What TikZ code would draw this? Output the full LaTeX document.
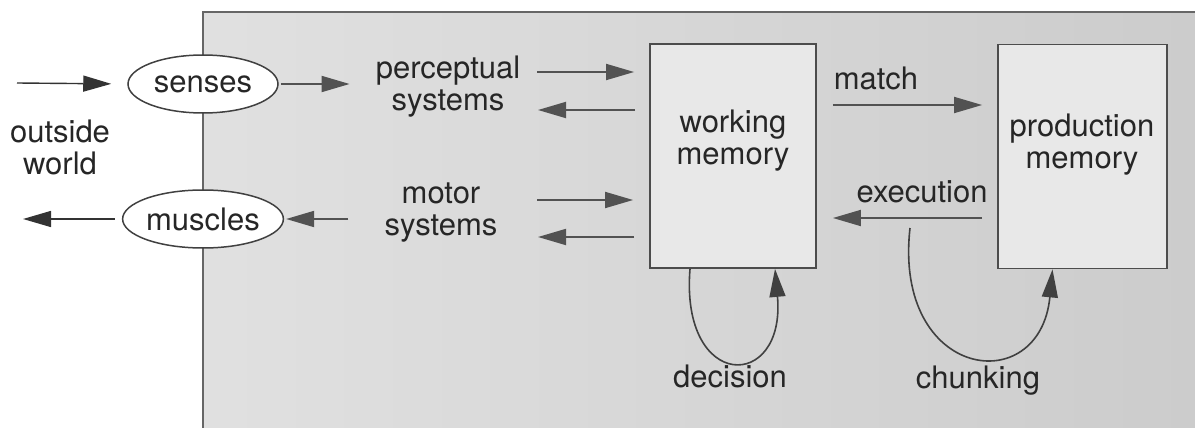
\documentclass[tikz,border=0pt]{standalone}
\usepackage{fontspec}
\setmainfont{TeX Gyre Heros}
\usetikzlibrary{arrows.meta,shapes.geometric,calc}

\begin{document}
\begin{tikzpicture}[x=1pt,y=-1pt,
  every node/.style={font=\fontsize{31}{32}\selectfont, inner sep=0pt, text=black!85},
  arr/.style={draw=black!68, line width=1.8pt, -{Triangle[length=28pt,width=16pt]}},
  loop/.style={draw=black!75, line width=1.6pt, -{Triangle[length=28pt,width=16pt]}},
  membox/.style={draw=black!70, line width=1.8pt, fill=gray!18, minimum height=224pt},
  oval/.style={ellipse, draw=black!75, line width=1.5pt, fill=white,
               minimum width=150pt, minimum height=58pt},
  lines/.style={align=center}]

  % page frame
  \useasboundingbox (0,0) rectangle (1195,428);

  % shaded body of the cognitive system
  \shade[left color=gray!24, right color=gray!40] (203,12) rectangle (1195,428);
  \draw[black!60, line width=1.6pt] (1195,12) -- (203,12) -- (203,428);

  % memories
  \node[membox, minimum width=166pt] (wm) at (733,156) {};
  \node[membox, minimum width=169pt] (pm) at (1082.5,156.5) {};
  \node[lines] (wmtext) at (733,141) {working\\memory};
  \node[lines] (pmtext) at (1082,145) {production\\memory};

  % peripheral systems
  \node[lines] (perc) at (448,87) {perceptual\\systems};
  \node[lines] (motor) at (441,213) {motor\\systems};

  % interface to the outside world
  \node[oval] (senses) at (203,84) {senses};
  \node[oval] (muscles) at (203,219) {muscles};
  \node[lines] (world) at (60,147) {outside\\world};

  % edge labels
  \node[anchor=base] (match) at (876,90) {match};
  \node[anchor=base] (exec) at (922,202) {execution};
  \node[anchor=base] (decision) at (730,387) {decision};
  \node[anchor=base] (chunk) at (978,388) {chunking};

  % free ends of connectors
  \coordinate (inpt) at (17,83);
  \coordinate (outpt) at (23,219);
  \coordinate (p1) at (537,72);
  \coordinate (p2) at (538,110);
  \coordinate (m1) at (537,200);
  \coordinate (m2) at (538,237);
  \coordinate (mt) at (0,105);
  \coordinate (ex) at (0,218);
  \coordinate (ck) at (910,228);

  % outside world <-> senses / muscles
  \draw[arr, draw=black!80, line width=1.4pt, shorten >=16pt] (inpt) -- (senses.west);
  \draw[arr, draw=black!80, line width=1.4pt, shorten <=7pt] (muscles.west) -- (outpt);
  \draw[arr, shorten <=2pt, shorten >=26pt] (senses.east) -- (perc.west |- senses.east);
  \draw[arr, shorten <=36pt, shorten >=2pt] (motor.west |- muscles.east) -- (muscles.east);

  % peripheral systems <-> working memory
  \draw[arr, shorten >=15pt] (p1) -- (p1 -| wm.west);
  \draw[arr, shorten <=14pt] (p2 -| wm.west) -- (p2);
  \draw[arr, shorten >=16pt] (m1) -- (m1 -| wm.west);
  \draw[arr, shorten <=15pt] (m2 -| wm.west) -- (m2);

  % match / execution cycle
  \draw[arr, shorten <=16pt, shorten >=15pt] (wm.east |- mt) -- (pm.west |- mt);
  \draw[arr, shorten <=15pt, shorten >=16pt] (pm.west |- ex) -- (wm.east |- ex);

  % decision loop and chunking
  \draw[loop] ([xshift=-43pt]wm.south) .. controls +(-10,123) and +(11,123) .. ([xshift=42pt]wm.south);
  \draw[loop] (ck) .. controls (893,380) and (1040,400) .. ([xshift=-30pt]pm.south);
\end{tikzpicture}
\end{document}
